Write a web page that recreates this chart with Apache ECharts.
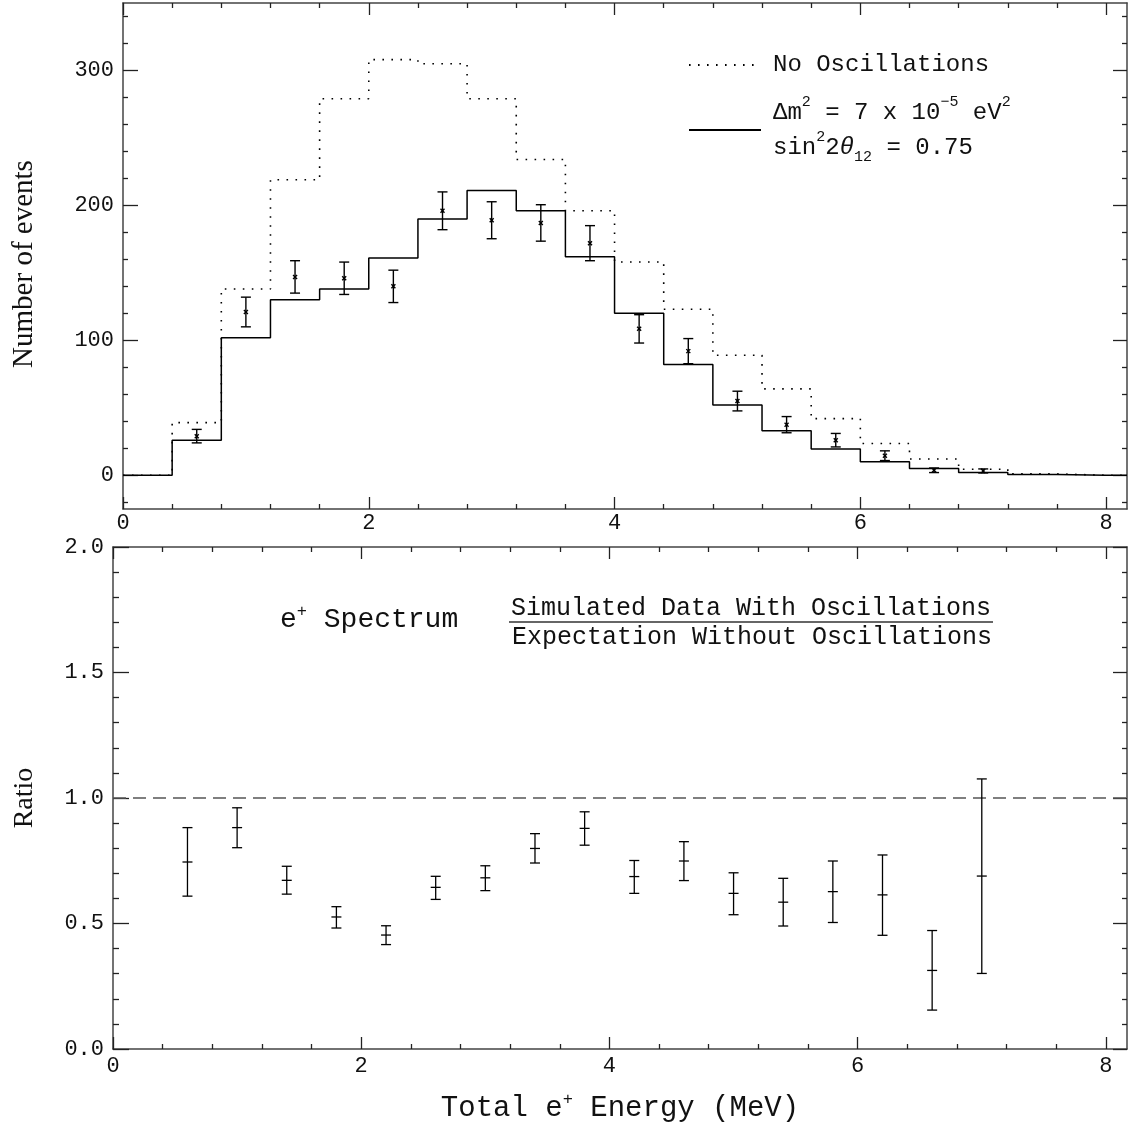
<!DOCTYPE html>
<html><head><meta charset="utf-8">
<script src="https://cdn.jsdelivr.net/npm/echarts@6/dist/echarts.min.js"></script>
<style>html,body{margin:0;padding:0;background:#fff}#c{width:1129px;height:1126px}</style>
</head><body><div id="c"></div>
<script>
// ---------------- data ----------------
const xMax = 8.17;
const binEdges = [0.0,0.4,0.8,1.2,1.6,2.0,2.4,2.8,3.2,3.6,4.0,4.4,4.8,5.2,5.6,6.0,6.4,6.8,7.2,7.6,8.0];
const noOscCounts = [0,39,138,219,279,308,305,279,234,196,158,123,89,64,42,23.5,12,4.5,1,0,0];
const oscCounts   = [0,26,102,130,138,161,190,211,196,162,120,82,52,33,19.5,10,5,2,0.5,0,0];
const dataEnergy  = [0.6,1.0,1.4,1.8,2.2,2.6,3.0,3.4,3.8,4.2,4.6,5.0,5.4,5.8,6.2,6.6,7.0];
const dataCounts  = [29,121,147,146,140,196,189,187,172,108.5,92,55,37.5,26,14.5,3.7,3.2];
const dataErr     = [5,11,12,12,12,14,13.7,13.5,13,10.5,9.3,7.3,6,5,3.6,1.7,1.5];
const ratio     = [0.745,0.882,0.672,0.526,0.454,0.644,0.682,0.799,0.879,0.687,0.749,0.620,0.585,0.627,0.614,0.313,0.689];
const ratioLow  = [0.609,0.802,0.617,0.482,0.416,0.596,0.631,0.741,0.812,0.620,0.671,0.535,0.490,0.504,0.453,0.155,0.301];
const ratioHigh = [0.882,0.961,0.728,0.567,0.491,0.688,0.730,0.858,0.945,0.751,0.826,0.702,0.680,0.749,0.773,0.472,1.076];
const ratioReference = 1.0;
const energyMajorTicks = [0,2,4,6,8];
const energyMinorTicks = [0.4,0.8,1.2,1.6,2.4,2.8,3.2,3.6,4.4,4.8,5.2,5.6,6.4,6.8,7.2,7.6];
const countsMajorTicks = [0,100,200,300];
const countsMinorTicks = [-20,20,40,60,80,120,140,160,180,220,240,260,280,320,340];
const ratioMajorTicks = [0,0.5,1,1.5,2];
const ratioMinorTicks = [0.1,0.2,0.3,0.4,0.6,0.7,0.8,0.9,1.1,1.2,1.3,1.4,1.6,1.7,1.8,1.9];

// ---------------- helpers ----------------
const MONO = 'Liberation Mono';
const SERIF = 'Liberation Serif';
const INK = '#111';
const FRAME = '#444';

function stepData(vals) {
  const pts = binEdges.map((e, i) => [e, vals[i]]);
  pts.push([xMax, vals[vals.length - 1]]);
  return pts;
}

function axis(kind, grid, pos, min, max, ticks, len, opts) {
  opts = opts || {};
  const a = {
    type: 'value', gridIndex: grid, position: pos, min: min, max: max,
    axisLine: { show: !!opts.line, onZero: false, lineStyle: { color: FRAME, width: 1.5 } },
    axisTick: { show: true, inside: true, length: len, customValues: ticks, lineStyle: { color: '#222', width: 1.3 } },
    axisLabel: { show: false },
    splitLine: { show: false },
    minorTick: { show: false },
    axisPointer: { show: false },
    silent: true
  };
  if (opts.label) {
    a.axisLabel = {
      show: true, customValues: ticks, margin: opts.margin, color: INK,
      fontFamily: MONO, fontSize: 22, formatter: opts.fmt || (v => String(v))
    };
  }
  if (opts.name) {
    a.name = opts.name; a.nameLocation = 'middle'; a.nameGap = opts.nameGap;
    if (opts.nameRotate !== undefined) a.nameRotate = opts.nameRotate;
    a.nameTextStyle = opts.nameStyle;
  }
  return a;
}

const xAxes = [
  // top panel (grid 0)
  axis('x', 0, 'bottom', 0, xMax, energyMajorTicks, 12, { line: true, label: true, margin: 3 }),
  axis('x', 0, 'bottom', 0, xMax, energyMinorTicks, 5),
  axis('x', 0, 'top', 0, xMax, energyMajorTicks, 12, { line: true }),
  axis('x', 0, 'top', 0, xMax, energyMinorTicks, 5),
  // bottom panel (grid 1)
  axis('x', 1, 'bottom', 0, xMax, energyMajorTicks, 12, {
    line: true, label: true, margin: 6,
    name: 'Total e{sup|+} Energy (MeV)', nameGap: 42,
    nameStyle: { fontFamily: MONO, fontSize: 29, color: INK, lineHeight: 34,
      rich: { sup: { fontFamily: MONO, fontSize: 17, verticalAlign: 'top', lineHeight: 22, color: INK } } }
  }),
  axis('x', 1, 'bottom', 0, xMax, energyMinorTicks, 5),
  axis('x', 1, 'top', 0, xMax, energyMajorTicks, 12, { line: true }),
  axis('x', 1, 'top', 0, xMax, energyMinorTicks, 5)
];

const yAxes = [
  axis('y', 0, 'left', -25, 350, countsMajorTicks, 15, {
    line: true, label: true, margin: 9,
    name: 'Number of events', nameGap: 84, nameRotate: 90,
    nameStyle: { fontFamily: SERIF, fontSize: 29, color: INK, padding: [0, 16, 0, 0] }
  }),
  axis('y', 0, 'left', -25, 350, countsMinorTicks, 5),
  axis('y', 0, 'right', -25, 350, countsMajorTicks, 14, { line: true }),
  axis('y', 0, 'right', -25, 350, countsMinorTicks, 5),
  axis('y', 1, 'left', 0, 2, ratioMajorTicks, 16, {
    line: true, label: true, margin: 9, fmt: v => Number(v).toFixed(1),
    name: 'Ratio', nameGap: 74, nameRotate: 90,
    nameStyle: { fontFamily: SERIF, fontSize: 28, color: INK }
  }),
  axis('y', 1, 'left', 0, 2, ratioMinorTicks, 6),
  axis('y', 1, 'right', 0, 2, ratioMajorTicks, 14, { line: true }),
  axis('y', 1, 'right', 0, 2, ratioMinorTicks, 5)
];

function countsErrorBar(params, api) {
  const x = api.value(0), y = api.value(1), e = api.value(2);
  const c = api.coord([x, y]);
  const hi = api.coord([x, y + e]);
  const lo = api.coord([x, y - e]);
  const cw = 5, m = 2;
  const st = { stroke: '#000', lineWidth: 1.4 };
  return { type: 'group', children: [
    { type: 'line', shape: { x1: c[0], y1: hi[1], x2: c[0], y2: lo[1] }, style: st },
    { type: 'line', shape: { x1: c[0] - cw, y1: hi[1], x2: c[0] + cw, y2: hi[1] }, style: st },
    { type: 'line', shape: { x1: c[0] - cw, y1: lo[1], x2: c[0] + cw, y2: lo[1] }, style: st },
    { type: 'line', shape: { x1: c[0] - m, y1: c[1] - m, x2: c[0] + m, y2: c[1] + m }, style: st },
    { type: 'line', shape: { x1: c[0] - m, y1: c[1] + m, x2: c[0] + m, y2: c[1] - m }, style: st }
  ]};
}

function ratioErrorBar(params, api) {
  const x = api.value(0);
  const c = api.coord([x, api.value(1)]);
  const lo = api.coord([x, api.value(2)]);
  const hi = api.coord([x, api.value(3)]);
  const cw = 5;
  const st = { stroke: '#000', lineWidth: 1.3 };
  return { type: 'group', children: [
    { type: 'line', shape: { x1: c[0], y1: hi[1], x2: c[0], y2: lo[1] }, style: st },
    { type: 'line', shape: { x1: c[0] - cw, y1: hi[1], x2: c[0] + cw, y2: hi[1] }, style: st },
    { type: 'line', shape: { x1: c[0] - cw, y1: lo[1], x2: c[0] + cw, y2: lo[1] }, style: st },
    { type: 'line', shape: { x1: c[0] - cw, y1: c[1], x2: c[0] + cw, y2: c[1] }, style: st }
  ]};
}

const legendText = {
  'No Oscillations': 'No Oscillations',
  'Oscillations': '{t|Δm}{sup|2}{t| = 7 x 10}{sup|−5}{t| eV}{sup|2}\n{t|sin}{sup|2}{t|2}{th|θ}{sub|12}{t| = 0.75}'
};

const option = {
  animation: false,
  backgroundColor: '#fff',
  color: ['#000', '#000', '#000', '#000', '#000'],
  grid: [
    { left: 123, top: 3, width: 1004, height: 506 },
    { left: 113, top: 547, width: 1014, height: 506 }
  ],
  xAxis: xAxes,
  yAxis: yAxes,
  legend: {
    left: 688, top: 50, orient: 'vertical', padding: 0,
    itemWidth: 72, itemHeight: 14, itemGap: 15, selectedMode: false,
    itemStyle: { opacity: 0 },
    data: ['No Oscillations', 'Oscillations'],
    formatter: name => legendText[name],
    textStyle: {
      fontFamily: MONO, fontSize: 24, color: INK, lineHeight: 30, padding: [0, 0, 0, 7],
      rich: {
        t: { fontFamily: MONO, fontSize: 24, color: INK, lineHeight: 35 },
        th: { fontFamily: MONO, fontSize: 24, fontStyle: 'italic', color: INK, lineHeight: 35 },
        sup: { fontFamily: MONO, fontSize: 15, color: INK, verticalAlign: 'top', lineHeight: 26 },
        sub: { fontFamily: MONO, fontSize: 15, color: INK, verticalAlign: 'bottom', lineHeight: 16 }
      }
    }
  },
  graphic: [
    {
      type: 'text', left: 280, top: 603,
      style: {
        text: 'e{sup|+} Spectrum', fontFamily: MONO, fontSize: 28, fill: INK, lineHeight: 34,
        rich: { sup: { fontFamily: MONO, fontSize: 17, fill: INK, verticalAlign: 'top', lineHeight: 22 } }
      }
    },
    { type: 'text', x: 751, y: 608, style: { text: 'Simulated Data With Oscillations', fontFamily: MONO, fontSize: 25, fill: INK, align: 'center', verticalAlign: 'middle' } },
    { type: 'line', shape: { x1: 509, y1: 622, x2: 993, y2: 622 }, style: { stroke: '#333', lineWidth: 1.3 } },
    { type: 'text', x: 752, y: 637, style: { text: 'Expectation Without Oscillations', fontFamily: MONO, fontSize: 25, fill: INK, align: 'center', verticalAlign: 'middle' } }
  ],
  series: [
    {
      name: 'No Oscillations', type: 'line', step: 'end', xAxisIndex: 0, yAxisIndex: 0,
      symbol: 'none', data: stepData(noOscCounts), z: 2, silent: true,
      itemStyle: { color: '#000' },
      lineStyle: { color: '#000', width: 1.6, type: [1.6, 7.4] }
    },
    {
      name: 'Oscillations', type: 'line', step: 'end', xAxisIndex: 0, yAxisIndex: 0,
      symbol: 'none', data: stepData(oscCounts), z: 3, silent: true,
      itemStyle: { color: '#000' },
      lineStyle: { color: '#000', width: 1.5 }
    },
    {
      name: 'Simulated data', type: 'custom', xAxisIndex: 0, yAxisIndex: 0, z: 4, silent: true,
      data: dataEnergy.map((x, i) => [x, dataCounts[i], dataErr[i]]),
      renderItem: countsErrorBar
    },
    {
      name: 'Unity', type: 'line', xAxisIndex: 4, yAxisIndex: 4, symbol: 'none', silent: true,
      data: [[0, ratioReference], [xMax, ratioReference]], z: 2,
      lineStyle: { color: '#555', width: 1.5, type: [13, 7] }
    },
    {
      name: 'Ratio', type: 'custom', xAxisIndex: 4, yAxisIndex: 4, z: 4, silent: true,
      data: dataEnergy.map((x, i) => [x, ratio[i], ratioLow[i], ratioHigh[i]]),
      renderItem: ratioErrorBar
    }
  ]
};

const chart = echarts.init(document.getElementById('c'), null, { renderer: 'canvas' });
chart.setOption(option);
</script>
</body></html>
